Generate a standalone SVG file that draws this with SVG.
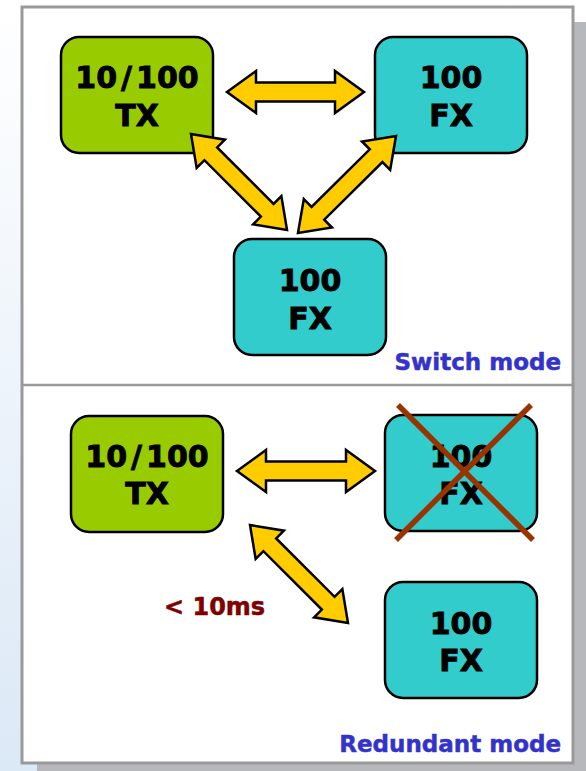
<svg xmlns="http://www.w3.org/2000/svg" width="586" height="771" viewBox="0 0 586 771">
<defs>
<linearGradient id="bg" x1="0" y1="0" x2="0" y2="1">
<stop offset="0" stop-color="#ffffff"/>
<stop offset="1" stop-color="#dbe8f6"/>
</linearGradient>
<style>
.box{stroke:#000;stroke-width:2.5}
.tx{fill:#99cc00}
.fx{fill:#33cccc}
.lbl{font-family:"DejaVu Sans",Verdana,sans-serif;font-weight:bold;font-size:30px;fill:#000;stroke:#000;stroke-width:0.9;text-anchor:middle}
.mode{font-family:"DejaVu Sans",Verdana,sans-serif;font-weight:bold;font-size:23px;fill:#3333cc;stroke:#3333cc;stroke-width:0.5;text-anchor:end}
.ms{font-family:"DejaVu Sans",Verdana,sans-serif;font-weight:bold;font-size:24px;fill:#800000;stroke:#800000;stroke-width:0.5}
.arr{fill:#ffcc00;stroke:#000;stroke-width:2.5;stroke-linejoin:miter}
.x{stroke:#993300;stroke-width:5.5;stroke-linecap:butt}
</style>
</defs>
<rect x="0" y="0" width="586" height="771" fill="url(#bg)"/>
<rect x="37" y="22" width="560" height="760" fill="#b6b8bb"/>
<rect x="22" y="7" width="551" height="756" fill="#ffffff" stroke="#999999" stroke-width="3"/>
<line x1="22" y1="385" x2="573" y2="385" stroke="#999999" stroke-width="2.5"/>

<g id="tx-top">
<rect class="box tx" x="61" y="37" width="152" height="116" rx="18"/>
<text class="lbl" x="137" y="88">10<tspan dx="4">/</tspan><tspan dx="4">100</tspan></text>
<text class="lbl" x="137" y="126">TX</text>
</g>
<g id="fx-top-right">
<rect class="box fx" x="375" y="37" width="152" height="116" rx="18"/>
<text class="lbl" x="451" y="88">100</text>
<text class="lbl" x="451" y="126">FX</text>
</g>
<g id="fx-top-bottom">
<rect class="box fx" x="234" y="239" width="152" height="116" rx="18"/>
<text class="lbl" x="310" y="291">100</text>
<text class="lbl" x="310" y="329">FX</text>
</g>
<g id="switch-mode">
<text class="mode" x="561" y="370">Switch mode</text>
</g>

<g id="tx-bottom">
<rect class="box tx" x="71" y="416" width="152" height="116" rx="18"/>
<text class="lbl" x="147" y="467">10<tspan dx="4">/</tspan><tspan dx="4">100</tspan></text>
<text class="lbl" x="147" y="504">TX</text>
</g>
<g id="fx-failed">
<rect class="box fx" x="385" y="415" width="152" height="116" rx="18"/>
<text class="lbl" x="461" y="467">100</text>
<text class="lbl" x="461" y="504">FX</text>
<line class="x" x1="398" y1="405" x2="533" y2="540"/>
<line class="x" x1="531" y1="405" x2="396" y2="540"/>
</g>
<g id="fx-bottom">
<rect class="box fx" x="385" y="582" width="152" height="116" rx="18"/>
<text class="lbl" x="461" y="634">100</text>
<text class="lbl" x="461" y="671">FX</text>
</g>
<g id="latency">
<text class="ms" x="164" y="615">&lt; 10ms</text>
</g>
<g id="redundant-mode">
<text class="mode" x="561" y="752">Redundant mode</text>
</g>

<g id="connectors">
<path class="arr" transform="translate(227,92)" d="M0,0 L29,-21 L29,-9.5 L108,-9.5 L108,-21 L137,0 L108,21 L108,9.5 L29,9.5 L29,21 Z"/>
<path class="arr" transform="translate(191,134) rotate(45)" d="M0,0 L28,-20 L28,-9 L107.8,-9 L107.8,-20 L135.8,0 L107.8,20 L107.8,9 L28,9 L28,20 Z"/>
<path class="arr" transform="translate(396,136) rotate(135.3)" d="M0,0 L28,-20 L28,-9 L109.9,-9 L109.9,-20 L137.9,0 L109.9,20 L109.9,9 L28,9 L28,20 Z"/>
<path class="arr" transform="translate(237,471)" d="M0,0 L29,-21 L29,-9.5 L109,-9.5 L109,-21 L138,0 L109,21 L109,9.5 L29,9.5 L29,21 Z"/>
<path class="arr" transform="translate(250,525) rotate(45)" d="M0,0 L28,-20 L28,-9 L110.6,-9 L110.6,-20 L138.6,0 L110.6,20 L110.6,9 L28,9 L28,20 Z"/>
</g>
</svg>
